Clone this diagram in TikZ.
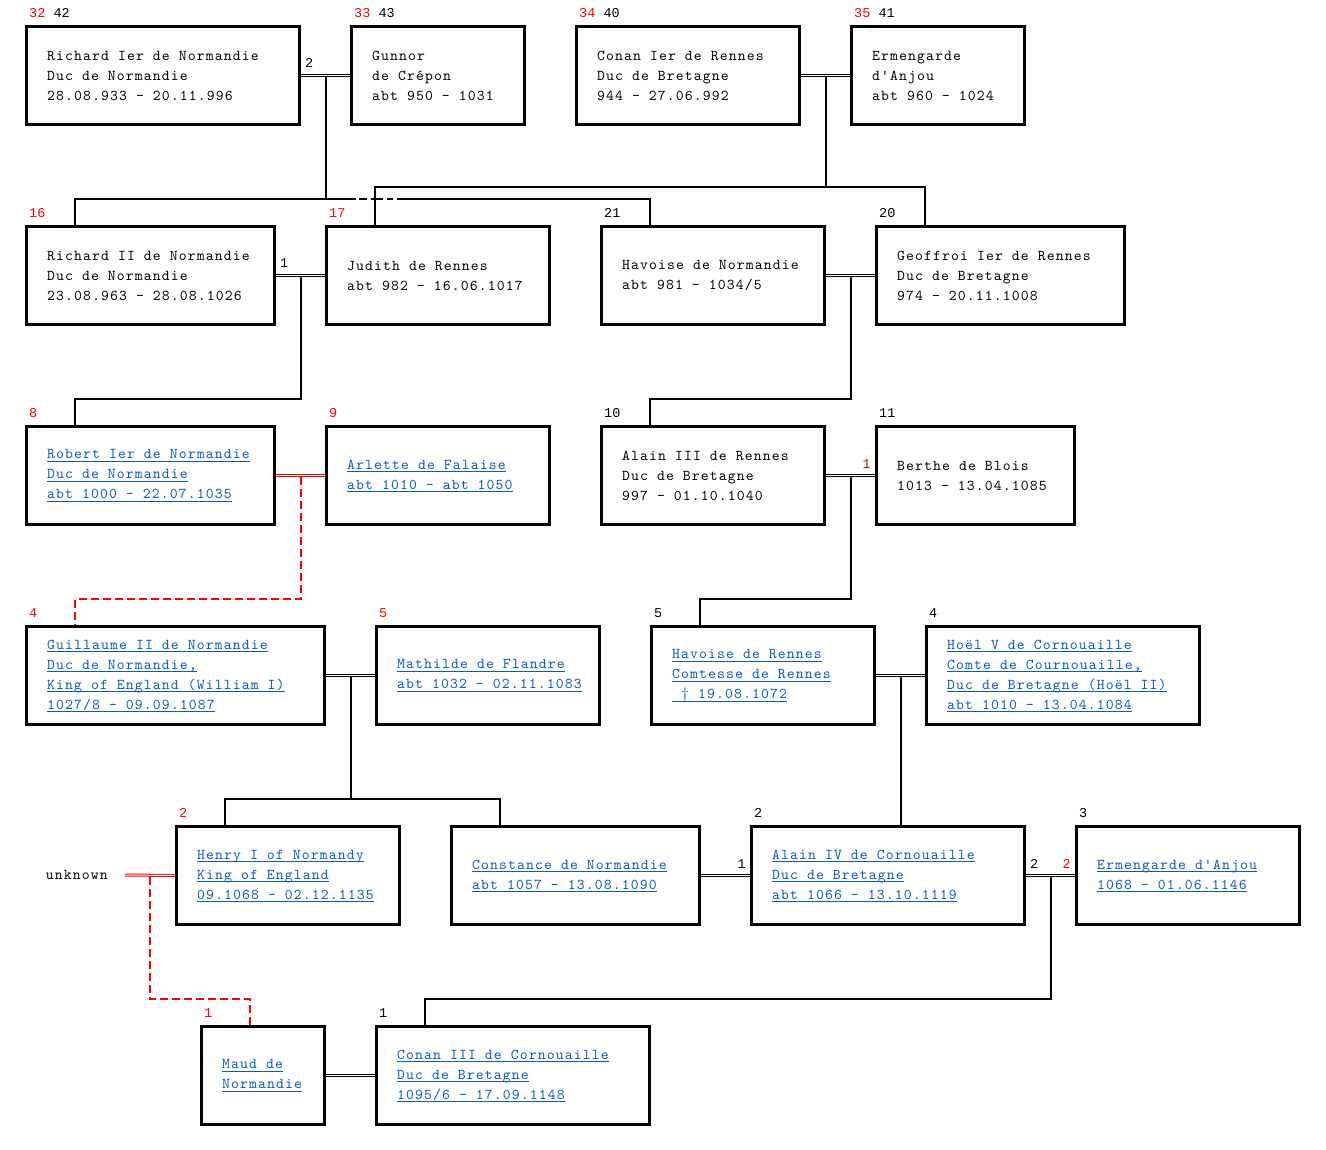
\documentclass[tikz,border=0pt]{standalone}
\usepackage{fontspec}
\usetikzlibrary{calc}
\newfontfamily\bxfont[Extension=.otf,LetterSpace=7.5]{lmmono10-regular}
\newfontfamily\lbfont{Liberation Mono}
\definecolor{linkblue}{HTML}{0A57C8}
\definecolor{numred}{HTML}{FF0000}
\newcommand\lk[1]{\leavevmode\setbox0=\hbox{#1}\rlap{\textcolor{linkblue}{\raisebox{-3.2pt}{\rule{\wd0}{1.4pt}}}}\textcolor{linkblue}{\box0}}
\newcommand\rd[1]{\textcolor{numred}{#1}}
\begin{document}
\begin{tikzpicture}[x=1pt,y=-1pt,
  pbox/.style={draw, line width=3pt, anchor=north west, minimum height=98pt, inner sep=0pt},
  ptext/.style={anchor=west, align=left, inner sep=0pt, text=black, font=\bxfont\fontsize{15pt}{20pt}\selectfont},
  lab/.style={anchor=base west, inner sep=0pt, text=black, font=\lbfont\fontsize{13.5pt}{16pt}\selectfont},
  labr/.style={lab, anchor=base east},
  conn/.style={line width=2pt},
  rconn/.style={line width=2pt, draw=numred, dash pattern=on 8pt off 4pt},
  dbl/.style={draw, line width=1pt, double=white, double distance=1pt},
  dblred/.style={dbl, draw=numred}]
\fill[white] (0,0) rectangle (1326,1150);
\useasboundingbox (0,0) rectangle (1326,1150);
% person macro: name, left, top, width-3, text
\newcommand\person[5]{%
  \node[pbox, minimum width=#4pt] (#1) at (#2,#3) {};
  \node[ptext] (#1t) at ($(#1.west)+(22,0.5)$) {#5};}
% Row 1
\person{A}{25}{25}{273}{Richard Ier de Normandie\\Duc de Normandie\\28.08.933 - 20.11.996}
\person{B}{350}{25}{173}{Gunnor\\de Crépon\\abt 950 - 1031}
\person{C}{575}{25}{223}{Conan Ier de Rennes\\Duc de Bretagne\\944 - 27.06.992}
\person{D}{850}{25}{173}{Ermengarde\\d'Anjou\\abt 960 - 1024}
% Row 2
\person{E}{25}{225}{248}{Richard II de Normandie\\Duc de Normandie\\23.08.963 - 28.08.1026}
\person{F}{325}{225}{223}{Judith de Rennes\\abt 982 - 16.06.1017}
\person{G}{600}{225}{223}{Havoise de Normandie\\abt 981 - 1034/5}
\person{H}{875}{225}{248}{Geoffroi Ier de Rennes\\Duc de Bretagne\\974 - 20.11.1008}
% Row 3
\person{I}{25}{425}{248}{\lk{Robert Ier de Normandie}\\\lk{Duc de Normandie}\\\lk{abt 1000 - 22.07.1035}}
\person{J}{325}{425}{223}{\lk{Arlette de Falaise}\\\lk{abt 1010 - abt 1050}}
\person{K}{600}{425}{223}{Alain III de Rennes\\Duc de Bretagne\\997 - 01.10.1040}
\person{L}{875}{425}{198}{Berthe de Blois\\1013 - 13.04.1085}
% Row 4
\person{M}{25}{625}{298}{\lk{Guillaume II de Normandie}\\\lk{Duc de Normandie,}\\\lk{King of England (William I)}\\\lk{1027/8 - 09.09.1087}}
\person{N}{375}{625}{223}{\lk{Mathilde de Flandre}\\\lk{abt 1032 - 02.11.1083}}
\person{O}{650}{625}{223}{\lk{Havoise de Rennes}\\\lk{Comtesse de Rennes}\\\lk{\ † 19.08.1072}}
\person{P}{925}{625}{273}{\lk{Hoël V de Cornouaille}\\\lk{Comte de Cournouaille,}\\\lk{Duc de Bretagne (Hoël II)}\\\lk{abt 1010 - 13.04.1084}}
% Row 5
\node[ptext, anchor=east, inner xsep=17pt] (X) at (125,875) {unknown};
\person{Q}{175}{825}{223}{\lk{Henry I of Normandy}\\\lk{King of England}\\\lk{09.1068 - 02.12.1135}}
\person{R}{450}{825}{248}{\lk{Constance de Normandie}\\\lk{abt 1057 - 13.08.1090}}
\person{S}{750}{825}{273}{\lk{Alain IV de Cornouaille}\\\lk{Duc de Bretagne}\\\lk{abt 1066 - 13.10.1119}}
\person{T}{1075}{825}{223}{\lk{Ermengarde d'Anjou}\\\lk{1068 - 01.06.1146}}
% Row 6
\person{U}{200}{1025}{123}{\lk{Maud de}\\\lk{Normandie}}
\person{V}{375}{1025}{273}{\lk{Conan III de Cornouaille}\\\lk{Duc de Bretagne}\\\lk{1095/6 - 17.09.1148}}
% number labels above boxes
\node[lab] (An) at ($(A.north west)+(4,-7.5)$) {\rd{32} 42};
\node[lab] (Bn) at ($(B.north west)+(4,-7.5)$) {\rd{33} 43};
\node[lab] (Cn) at ($(C.north west)+(4,-7.5)$) {\rd{34} 40};
\node[lab] (Dn) at ($(D.north west)+(4,-7.5)$) {\rd{35} 41};
\node[lab] (En) at ($(E.north west)+(4,-7.5)$) {\rd{16}};
\node[lab] (Fn) at ($(F.north west)+(4,-7.5)$) {\rd{17}};
\node[lab] (Gn) at ($(G.north west)+(4,-7.5)$) {21};
\node[lab] (Hn) at ($(H.north west)+(4,-7.5)$) {20};
\node[lab] (In) at ($(I.north west)+(4,-7.5)$) {\rd{8}};
\node[lab] (Jn) at ($(J.north west)+(4,-7.5)$) {\rd{9}};
\node[lab] (Kn) at ($(K.north west)+(4,-7.5)$) {10};
\node[lab] (Ln) at ($(L.north west)+(4,-7.5)$) {11};
\node[lab] (Mn) at ($(M.north west)+(4,-7.5)$) {\rd{4}};
\node[lab] (Nn) at ($(N.north west)+(4,-7.5)$) {\rd{5}};
\node[lab] (On) at ($(O.north west)+(4,-7.5)$) {5};
\node[lab] (Pn) at ($(P.north west)+(4,-7.5)$) {4};
\node[lab] (Qn) at ($(Q.north west)+(4,-7.5)$) {\rd{2}};
\node[lab] (Sn) at ($(S.north west)+(4,-7.5)$) {2};
\node[lab] (Tn) at ($(T.north west)+(4,-7.5)$) {3};
\node[lab] (Un) at ($(U.north west)+(4,-7.5)$) {\rd{1}};
\node[lab] (Vn) at ($(V.north west)+(4,-7.5)$) {1};
% marriage labels
\node[lab] (lAB) at ($(A.east)+(4,-7.5)$) {2};
\node[lab] (lEF) at ($(E.east)+(4,-7.5)$) {1};
\node[labr] (lKL) at ($(L.west)+(-4,-7.5)$) {\rd{1}};
\node[labr] (lRS) at ($(S.west)+(-4,-7.5)$) {1};
\node[lab] (lST) at ($(S.east)+(4,-7.5)$) {2};
\node[labr] (lTS) at ($(T.west)+(-4,-7.5)$) {\rd{2}};
% marriage double lines
\draw[dbl] (A.east) -- (B.west);
\draw[dbl] (C.east) -- (D.west);
\draw[dbl] (E.east) -- (F.west);
\draw[dbl] (G.east) -- (H.west);
\draw[dblred] (I.east) -- (J.west);
\draw[dbl] (K.east) -- (L.west);
\draw[dbl] (M.east) -- (N.west);
\draw[dbl] (O.east) -- (P.west);
\draw[dblred] (X.east) -- (Q.west);
\draw[dbl] (R.east) -- (S.west);
\draw[dbl] (S.east) -- (T.west);
\draw[dbl] (U.east) -- (V.west);
% midpoints
\coordinate (mAB) at ($(A.east)!0.5!(B.west)+(0,1.5)$);
\coordinate (mCD) at ($(C.east)!0.5!(D.west)+(0,1.5)$);
\coordinate (mEF) at ($(E.east)!0.5!(F.west)+(0,1.5)$);
\coordinate (mGH) at ($(G.east)!0.5!(H.west)+(0,1.5)$);
\coordinate (mIJ) at ($(I.east)!0.5!(J.west)+(0,1.5)$);
\coordinate (mKL) at ($(K.east)!0.5!(L.west)+(0,1.5)$);
\coordinate (mMN) at ($(M.east)!0.5!(N.west)+(0,1.5)$);
\coordinate (mOP) at ($(O.east)!0.5!(P.west)+(0,1.5)$);
\coordinate (mXQ) at ($(X.east)!0.5!(Q.west)+(0,1.5)$);
\coordinate (mST) at ($(S.east)!0.5!(T.west)+(0,1.5)$);
% child drop points
\coordinate (Ed) at ($(E.north west)+(50,0)$);
\coordinate (Fd) at ($(F.north west)+(50,0)$);
\coordinate (Gd) at ($(G.north west)+(50,0)$);
\coordinate (Hd) at ($(H.north west)+(50,0)$);
\coordinate (Id) at ($(I.north west)+(50,0)$);
\coordinate (Kd) at ($(K.north west)+(50,0)$);
\coordinate (Md) at ($(M.north west)+(50,0)$);
\coordinate (Od) at ($(O.north west)+(50,0)$);
\coordinate (Qd) at ($(Q.north west)+(50,0)$);
\coordinate (Rd) at ($(R.north west)+(50,0)$);
\coordinate (Ud) at ($(U.north west)+(50,0)$);
\coordinate (Vd) at ($(V.north west)+(50,0)$);
% bus levels
\coordinate (busAB) at (0,199);
\coordinate (busCD) at (0,187);
\coordinate (bus3) at (0,399);
\coordinate (bus4) at (0,599);
\coordinate (bus5) at (0,799);
\coordinate (bus6) at (0,999);
\coordinate (jA) at (356,199);
\coordinate (jB) at (397,199);
% family Richard I + Gunnor
\draw[conn] (mAB) -- (mAB |- busAB);
\draw[conn] (Ed) -- (Ed |- busAB) -- (jA);
\draw[conn, dash pattern=on 0pt off 2.7pt on 8.6pt off 3.4pt on 12.6pt off 4pt on 6pt off 3.4pt] (jA) -- (jB);
\draw[conn] (jB) -- (Gd |- busAB) -- (Gd);
% family Conan I + Ermengarde
\draw[conn] (mCD) -- (mCD |- busCD);
\draw[conn] (Fd) -- (Fd |- busCD) -- (Hd |- busCD) -- (Hd);
% Richard II + Judith
\draw[conn] (mEF) -- (mEF |- bus3) -| (Id);
% Havoise + Geoffroi
\draw[conn] (mGH) -- (mGH |- bus3) -| (Kd);
% Robert + Arlette
\draw[rconn] (mIJ) -- (mIJ |- bus4) -| (Md);
% Alain III + Berthe
\draw[conn] (mKL) -- (mKL |- bus4) -| (Od);
% Guillaume + Mathilde
\draw[conn] (mMN) -- (mMN |- bus5);
\draw[conn] (Qd) -- (Qd |- bus5) -- (Rd |- bus5) -- (Rd);
% Havoise de Rennes + Hoel
\draw[conn] (mOP) -- (mOP |- S.north);
% unknown + Henry
\draw[rconn] (mXQ) -- (mXQ |- bus6) -| (Ud);
% Alain IV + Ermengarde
\draw[conn] (mST) -- (mST |- bus6) -| (Vd);
\end{tikzpicture}
\end{document}
